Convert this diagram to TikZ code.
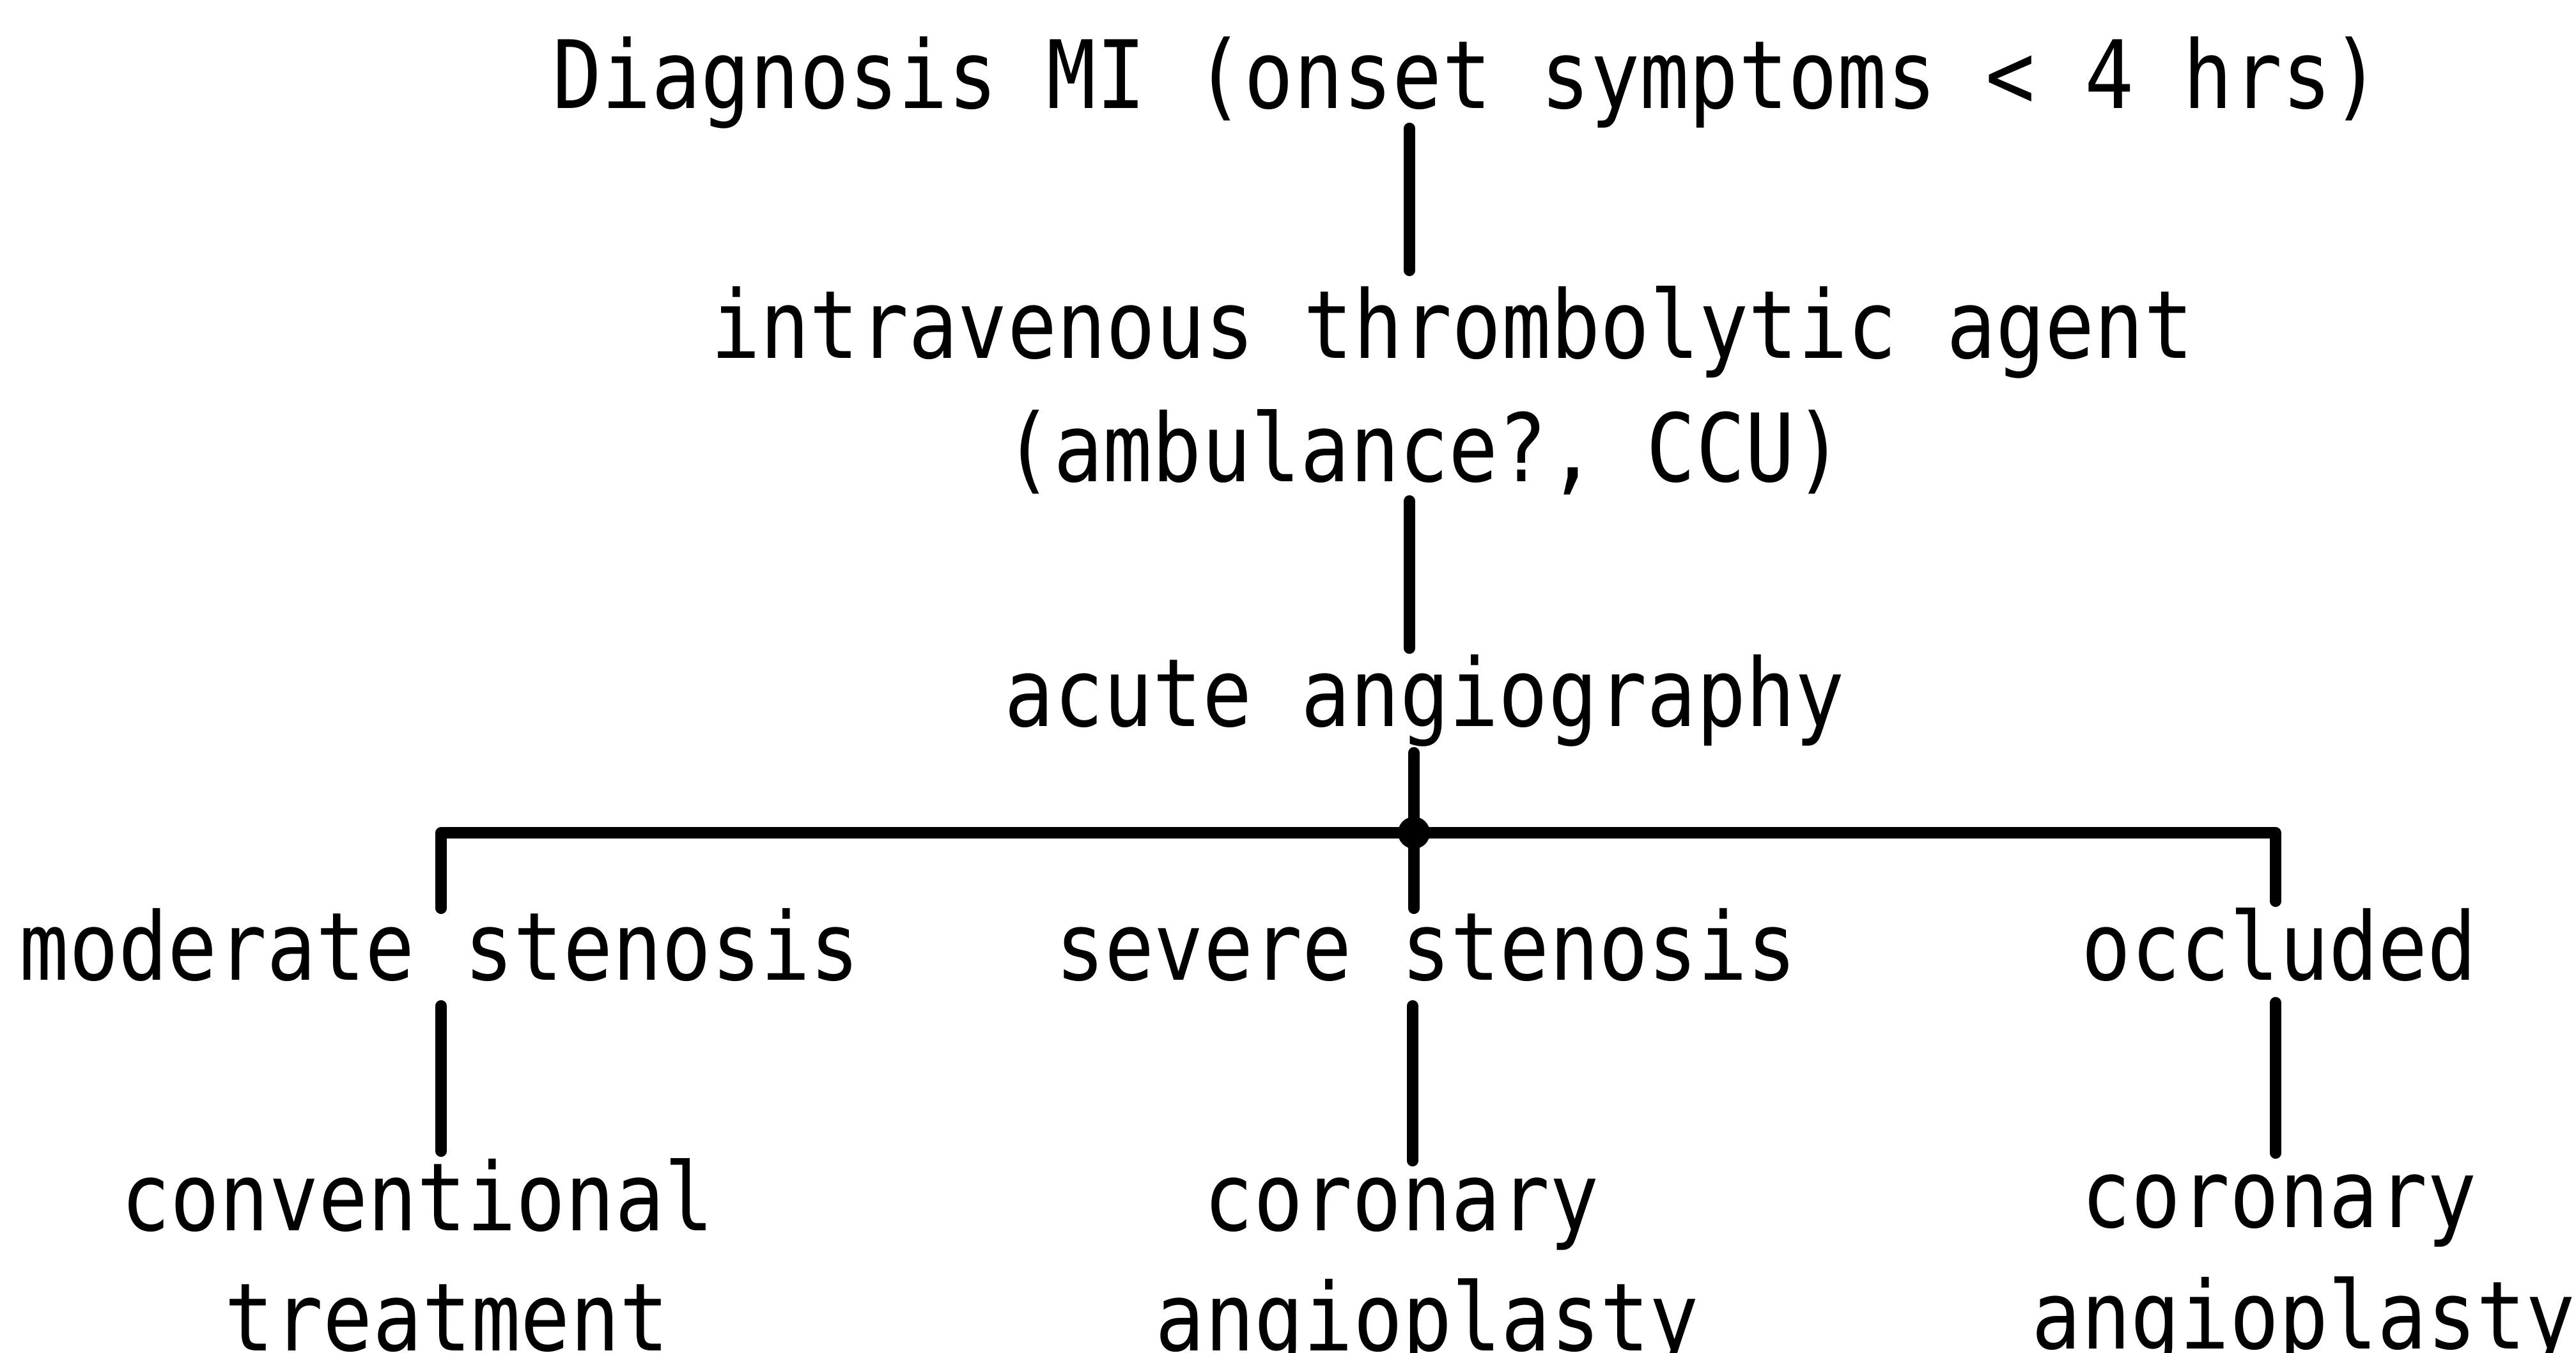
\documentclass[tikz,border=0pt]{standalone}
\usepackage{fontspec}
\setmonofont[FakeStretch=0.87]{DejaVu Sans Mono}
\usepackage{tikz}
\usetikzlibrary{calc}

\begin{document}
\begin{tikzpicture}[x=1cm,y=1cm]
  \tikzset{
    label/.style={font=\ttfamily\fontsize{42}{54}\selectfont, inner sep=0pt,
      text height=1.08cm, text depth=0.3cm, anchor=base},
    link/.style={line width=5pt, line cap=round, line join=round}
  }
  \useasboundingbox (0,0) rectangle (40.30,-21.16);
  % columns of the tree
  \coordinate (trunk) at (22.05,0);
  \coordinate (lowmid) at (22.10,0);
  \coordinate (colL) at (6.90,0);
  \coordinate (colR) at (35.60,0);
  % texts
  \node[label] (diag) at (22.95,-1.70) {Diagnosis MI (onset symptoms \textless{} 4 hrs)};
  \node[label] (iv) at (22.72,-5.60) {intravenous thrombolytic agent};
  \node[label] (ccu) at (22.28,-7.53) {(ambulance?, CCU)};
  \node[label] (acute) at (22.29,-11.36) {acute angiography};
  \node[label] (mod) at (6.88,-15.33) {moderate stenosis};
  \node[label] (sev) at (22.31,-15.33) {severe stenosis};
  \node[label] (occ) at (35.66,-15.33) {occluded};
  \node[label] (conv) at (6.53,-19.25) {conventional};
  \node[label] (treat) at (6.99,-21.13) {treatment};
  \node[label] (corM) at (21.93,-19.25) {coronary};
  \node[label] (angM) at (22.33,-21.13) {angioplasty};
  \node[label] (corR) at (35.66,-19.20) {coronary};
  \node[label] (angR) at (36.04,-21.10) {angioplasty};
  % split point
  \coordinate (split) at (22.12,-13.03);
  \fill (split) circle (0.25);
  % trunk
  \draw[link] (diag.south -| trunk) -- ($(iv.north -| trunk)+(0,0.28)$);
  \draw[link] (ccu.south -| trunk) -- ($(acute.north -| trunk)+(0,0.13)$);
  \draw[link] ($(acute.south -| split)+(0,-0.11)$) -- (split);
  % branches
  \draw[link] ($(mod.north -| colL)+(0,0.03)$) |- (split) -| ($(occ.north -| colR)+(0,0.14)$);
  \draw[link] (split) -- ($(sev.north -| split)+(0,0.03)$);
  % lower links
  \draw[link] ($(mod.south -| colL)+(0,-0.10)$) -- ($(conv.north -| colL)+(0,0.15)$);
  \draw[link] ($(sev.south -| lowmid)+(0,-0.10)$) -- ($(corM.north -| lowmid)+(0,0.00)$);
  \draw[link] ($(occ.south -| colR)+(0,-0.05)$) -- ($(corR.north -| colR)+(0,0.07)$);
\end{tikzpicture}
\end{document}
